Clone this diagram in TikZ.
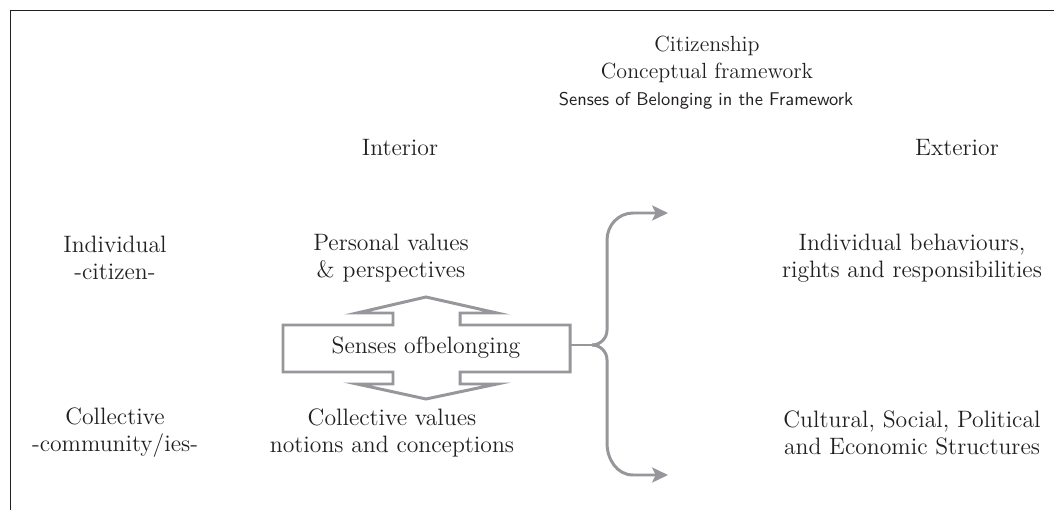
\documentclass[tikz,border=0pt]{standalone}
\usepackage{tikz}
\usetikzlibrary{arrows.meta}
\definecolor{sob_gray}{RGB}{150, 151, 155}
\definecolor{ink}{RGB}{35, 31, 32}
\tikzstyle{lbl}=[align=center,text=ink,inner sep=0pt,
  font=\fontsize{13.5}{15.3}\selectfont]
\tikzstyle{head}=[text=ink,inner sep=0pt,font=\fontsize{12.5}{15}\selectfont]
\tikzstyle{subhead}=[text=ink,inner sep=0pt,font=\sffamily\fontsize{10.5}{12}\selectfont]
\tikzstyle{frame}=[draw=ink,line width=0.9pt]
\tikzstyle{sobline}=[draw=sob_gray,line width=1.7pt,line join=miter]
\tikzstyle{brace}=[draw=sob_gray,line width=1.7pt,
  -{Stealth[length=9pt,width=8.5pt,inset=2pt]}]

\begin{document}
\begin{tikzpicture}[x=0.02cm,y=-0.02cm]
    \useasboundingbox (0,0) rectangle (1054,510);
    \draw[frame] (1054,10.5) -- (10.5,10.5) -- (10.5,510);
    \node [style=head] (cit) at (707,46) {Citizenship};
    \node [style=head] (cf) at (707,73) {Conceptual framework};
    \node [style=subhead] (sub) at (706,101) {Senses of Belonging in the Framework};
    \node [style=lbl] (int) at (400,148) {Interior};
    \node [style=lbl] (ext) at (957,148) {Exterior};
    \node [style=lbl] (indiv) at (115,258) {Individual\\-citizen-};
    \node [style=lbl] (pers) at (391,258) {Personal values\\\& perspectives};
    \node [style=lbl] (beh) at (912,258) {Individual behaviours,\\rights and responsibilities};
    \node [style=lbl] (coll) at (115,433) {Collective\\-community/ies-};
    \node [style=lbl] (cval) at (392,433) {Collective values\\notions and conceptions};
    \node [style=lbl] (struc) at (912,433) {Cultural, Social, Political\\and Economic Structures};
    % double arrow round the box
    \draw[sobline] (283,325) -- (393,325) -- (393,313) -- (357,313) -- (426,297)
      -- (497,313) -- (460,313) -- (460,325) -- (570,325) -- (570,372)
      -- (460,372) -- (460,384) -- (497,384) -- (426,399) -- (357,384)
      -- (393,384) -- (393,372) -- (283,372) -- cycle;
    \node [style=lbl] (sob) at (426,348) {Senses ofbelonging};
    \coordinate (boxe) at (570,345);
    \coordinate (cusp) at (592,345);
    \coordinate (tipa) at (668,213);
    \coordinate (tipb) at (668,475);
    \draw[sobline] (boxe) -- (cusp);
    \draw[brace] (cusp) to[out=0,in=-90] (607,330) -- (607,240)
      to[out=90,in=180] (633,213) -- (tipa);
    \draw[brace] (cusp) to[out=0,in=90] (607,360) -- (607,443)
      to[out=-90,in=180] (633,475) -- (tipb);
  \end{tikzpicture}
\end{document}
